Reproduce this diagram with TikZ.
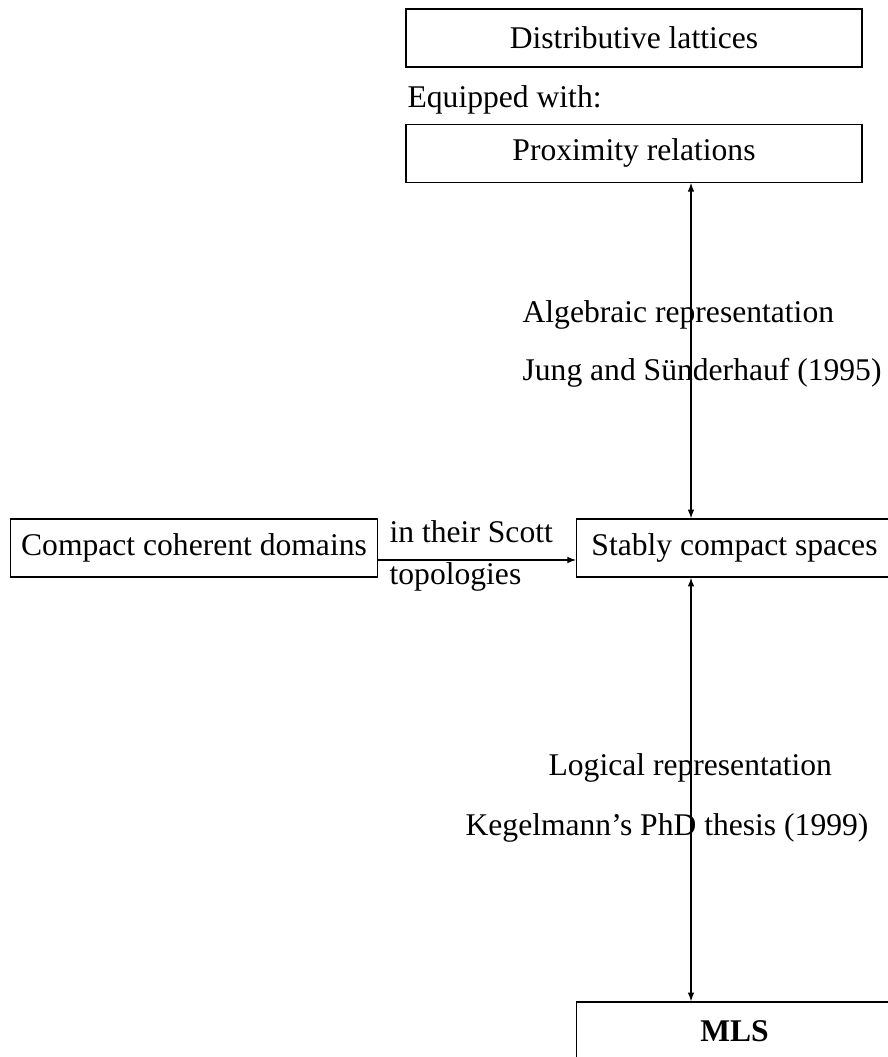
\documentclass[tikz,border=0pt]{standalone}
\usepackage{fontspec}
\setmainfont{Liberation Serif}
\usetikzlibrary{positioning}
\usetikzlibrary{arrows.meta}

\begin{document}
\begin{tikzpicture}[
      x=0.3165pt, y=-0.3165pt,
      block/.style ={rectangle, draw, minimum height=18.36pt, inner sep=3.33pt},
      wideblock/.style ={block, minimum width=144.3pt},
      rightblock/.style={block, minimum width=99.8pt},
      lbl/.style ={inner sep=0pt, anchor=base west},
      tip/.style ={-{Latex[length=2.8pt, width=2.1pt]}},
      both/.style ={{Latex[length=2.8pt, width=2.1pt]}-{Latex[length=2.8pt, width=2.1pt]}},
      node distance=17.7pt
    ]
    \useasboundingbox (0,0) rectangle (888,1057) ;
    \node [wideblock] (dist) at (634,38) {Distributive lattices} ;
    \node [lbl] (equip) at (407,107) {Equipped with:} ;
    \node [wideblock] (prox) [below=of dist] {Proximity relations} ;
    \node [block] (ccd) at (194,548) {Compact coherent domains} ;
    \node [rightblock] (scs) at (734.5,548) {Stably compact spaces} ;
    \node [rightblock] (mls) at (734.5,1031) {\textbf{MLS}} ;

    \node [lbl] (scott) at (389,542) {in their Scott} ;
    \node [lbl] (topo) at (389,584) {topologies} ;
    \node [lbl] (alg) at (522,322) {Algebraic representation} ;
    \node [lbl] (jung) at (522,380) {Jung and Sünderhauf (1995)} ;
    \node [lbl] (logic) at (548,775) {Logical representation} ;
    \node [lbl] (kegel) at (465,835) {Kegelmann’s PhD thesis (1999)} ;

    \coordinate (axis) at (691,0) ;
    \coordinate (hline) at (0,560) ;
    \draw [both] (prox.south -| axis) -- (scs.north -| axis) ;
    \draw [both] (scs.south -| axis) -- (mls.north -| axis) ;
    \draw [tip] (ccd.east |- hline) -- (scs.west |- hline) ;
  \end{tikzpicture}
\end{document}
